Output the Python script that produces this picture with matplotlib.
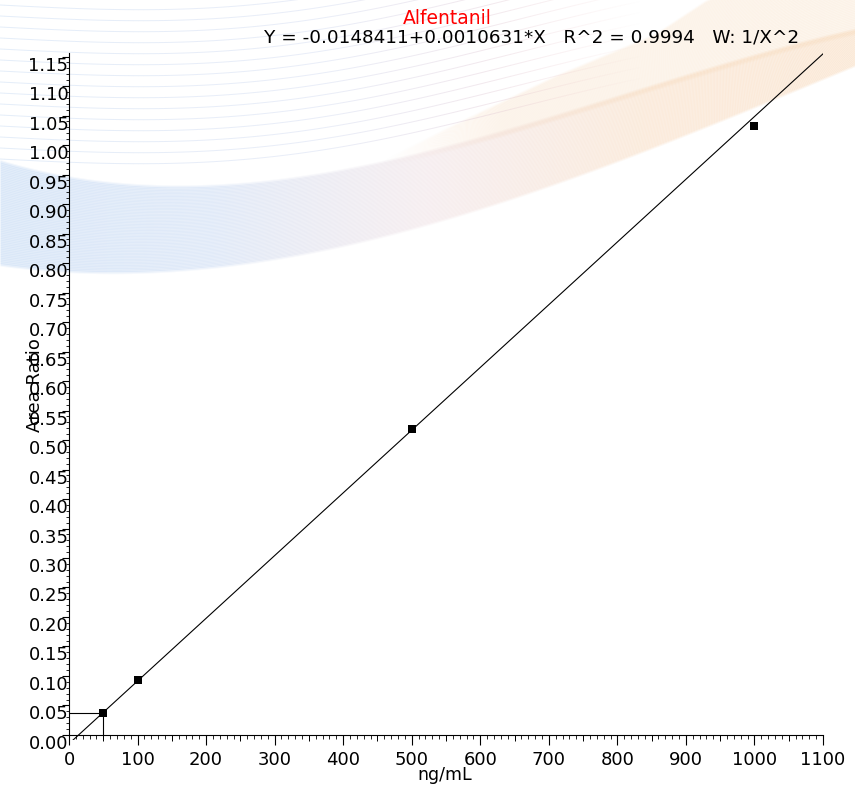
import numpy as np
import matplotlib
matplotlib.use("Agg")
import matplotlib.pyplot as plt
from matplotlib.collections import LineCollection
from matplotlib.colors import LinearSegmentedColormap, to_rgba
from matplotlib.ticker import MultipleLocator
from matplotlib.markers import TICKDOWN

# --- datos de la curva de calibracion ---
compound = "Alfentanil"
conc = [50, 100, 500, 1000]            # ng/mL
area_ratio = [0.038, 0.094, 0.518, 1.032]
intercept = -0.0148411
slope = 0.0010631
r2 = 0.9994
weighting = "1/X^2"

x_ticks = list(range(0, 1101, 100))
y_ticks = [round(0.05 * i, 2) for i in range(24)]

W, H = 855, 793
fig = plt.figure(figsize=(W / 100, H / 100), dpi=100)
fig.patch.set_facecolor("white")

# --- fondo decorativo (cintas suaves, solo adorno) ---
bg = fig.add_axes([0, 0, 1, 1], zorder=-5)
bg.set_xlim(0, W)
bg.set_ylim(H, 0)
bg.axis("off")

yy, xx = np.mgrid[0:H, 0:W] + 0.5
cols = np.arange(W) + 0.5


def borde(xs, ys):
    return np.polyval(np.polyfit(xs, ys, 3), cols)


def cinta(top, bot, colores, x0=0, fade_len=1, n_hilos=60, suave=5):
    a = np.clip((yy - top) / suave, 0, 1) * np.clip((bot - yy) / 3, 0, 1)
    a *= np.clip((xx - x0) / fade_len, 0, 1)
    frac = np.clip((yy - top) / np.maximum(bot - top, 1), 0, 1)
    a *= 0.8 + 0.2 * np.cos(frac * np.pi * n_hilos) ** 2
    cm = LinearSegmentedColormap.from_list("c", [to_rgba(c, al) for c, al in colores])
    rgba = cm(xx / W)
    rgba[..., 3] *= a
    bg.imshow(rgba, extent=(0, W, H, 0), interpolation="bilinear", aspect="auto")


anc_x = [0, 218, 340, 455, 555, 655, 755, 855]
top_main = borde(anc_x, [160, 180, 172, 147, 110, 80, 57, 27])
bot_main = borde(anc_x, [267, 268, 250, 217, 187, 147, 110, 67])

# abanico superior (mas claro), por debajo de la cinta principal
top_fan = np.interp(cols, [382, 455, 555, 655, 705, 855], [160, 123, 75, 33, 0, -70])
cinta(top_fan, np.maximum(top_main + 8, top_fan + 1),
      [("#f7dcc4", 0.35), ("#f8dcc0", 0.35), ("#f9dcbc", 0.35)],
      x0=382, fade_len=120, suave=3)

cinta(top_main, bot_main,
      [("#c2d8f4", 0.6), ("#c9daf3", 0.55), ("#ecd9de", 0.45),
       ("#f6d2b0", 0.45), ("#f6cfa8", 0.45)], suave=3)

# lineas finas arriba a la izquierda (azul -> rosa, se desvanecen)
cm_l = LinearSegmentedColormap.from_list("l", ["#bcd3f0", "#c9d3ee", "#f2b9b9"])
for y0 in np.arange(5, 160, 11):
    xs = np.linspace(0, 640, 130)
    ys = y0 + 25 * np.sin(np.pi * xs / 520) - 0.1 * xs
    pts = np.column_stack([xs, ys]).reshape(-1, 1, 2)
    segs = np.concatenate([pts[:-1], pts[1:]], axis=1)
    rgba = cm_l(xs[:-1] / 640)
    rgba[:, 3] = 0.4 * np.clip((640 - xs[:-1]) / 160, 0, 1)
    bg.add_collection(LineCollection(segs, colors=rgba, linewidths=0.7))

# --- grafico principal ---
ax = fig.add_axes([69 / W, 53 / H, 754 / W, 687 / H])
ax.patch.set_alpha(0)
ax.set_xlim(0, 1100)
ax.set_ylim(-0.0085, 1.156)

for s in ["top", "right"]:
    ax.spines[s].set_visible(False)
ax.spines["bottom"].set_position(("data", 0))
ax.spines["left"].set_bounds(0, 1.156)
ax.spines["left"].set_linewidth(0.8)
ax.spines["bottom"].set_linewidth(0.8)

fx = np.array([0, 1100])
ax.plot(fx, intercept + slope * fx, color="black", lw=0.8)
ax.plot(conc, area_ratio, "s", color="black", ms=5.5, mew=0)

# lineas guia del primer punto (LLOQ)
ax.plot([0, conc[0]], [area_ratio[0]] * 2, color="black", lw=0.8)
ax.plot([conc[0]] * 2, [0, area_ratio[0]], color="black", lw=0.8)

ax.set_xticks(x_ticks)
ax.set_xticklabels([str(v) for v in x_ticks])
ax.xaxis.set_minor_locator(MultipleLocator(10))
ax.set_yticks(y_ticks)
ax.set_yticklabels([f"{v:.2f}" for v in y_ticks])
ax.yaxis.set_minor_locator(MultipleLocator(0.01))

ax.tick_params(axis="x", which="major", direction="out", length=7.2, width=0.8,
               pad=4.3, labelsize=13)
ax.tick_params(axis="x", which="minor", direction="out", length=2.6, width=0.6)
ax.tick_params(axis="y", which="major", direction="out", length=5, width=0.8,
               pad=-4.6, labelsize=13)
ax.tick_params(axis="y", which="minor", direction="out", length=2.4, width=0.6)
for t in ax.get_yticklabels():
    t.set_verticalalignment("top")

# ticks intermedios cada 50
mid = [v + 50 for v in x_ticks[:-1]]
ax.plot(mid, [0] * len(mid), ls="none", marker=TICKDOWN, ms=4.5, mew=0.7,
        color="black", clip_on=False)

# --- textos ---
fig.text(447 / W, 1 - 18 / H, compound, color="red", fontsize=13.5,
         ha="center", va="center")
fig.text(532 / W, 1 - 37 / H,
         f"Y = {intercept:.7f}+{slope:.7f}*X   R^2 = {r2:.4f}   W: {weighting}",
         color="black", fontsize=13.2, ha="center", va="center")
fig.text(445 / W, 1 - 775 / H, "ng/mL", fontsize=12.5, ha="center", va="center")
fig.text(35 / W, 1 - 385 / H, "Area Ratio", fontsize=13, rotation=90,
         ha="center", va="center")

fig.savefig("out.png", dpi=100)
